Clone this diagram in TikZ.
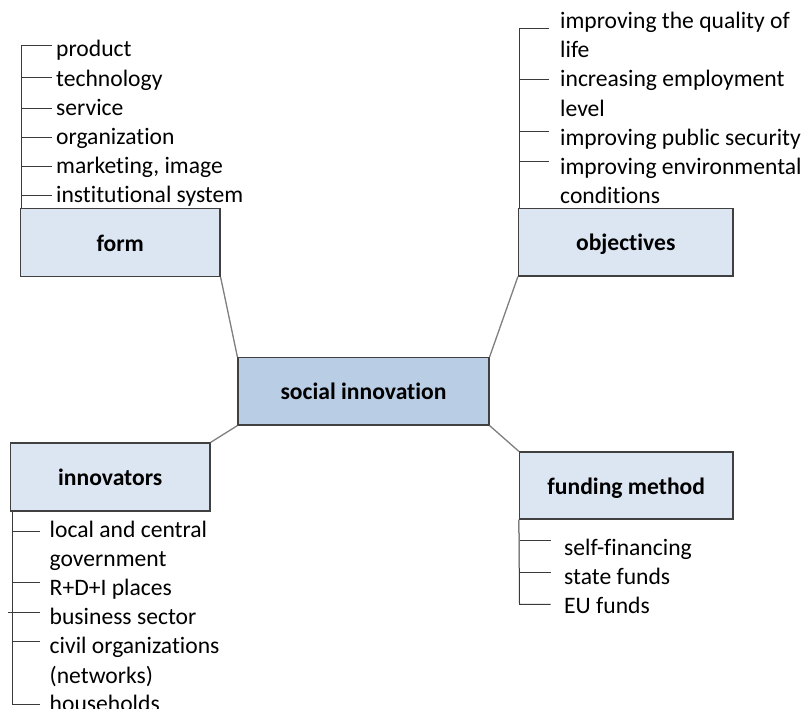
\documentclass[tikz,border=0pt]{standalone}
\usepackage{fontspec}
\setmainfont{Carlito}[Ligatures=NoCommon]
\definecolor{boxfill}{HTML}{DCE6F2}
\definecolor{hubfill}{HTML}{B9CDE5}
\definecolor{boxborder}{HTML}{404040}
\definecolor{conngray}{HTML}{7F7F7F}
\definecolor{tickgray}{HTML}{3A3A3A}
\newcommand\itemfont{\fontsize{23.6}{29}\selectfont}
\tikzset{
  catbox/.style={draw=boxborder, line width=1.2pt, fill=boxfill, inner sep=0pt,
    font=\itemfont\bfseries, text height=19pt, text depth=2pt},
  hubbox/.style={catbox, fill=hubfill},
  listitem/.style={anchor=base west, inner sep=0pt, font=\itemfont},
  conn/.style={draw=conngray, line width=1.3pt},
  tickline/.style={draw=tickgray, line width=1pt}
}
\begin{document}
\begin{tikzpicture}[x=1pt,y=-1pt]
\path[use as bounding box, fill=white] (0,0) rectangle (806,709);

% boxes
\node[hubbox, minimum width=251pt, minimum height=67.5pt] (hub) at (363.5,391.25) {social innovation};
\node[catbox, minimum width=199.5pt, minimum height=68pt] (form) at (120.25,242.5) {form};
\node[catbox, minimum width=214.5pt, minimum height=67.5pt] (obj) at (625.75,242.25) {objectives};
\node[catbox, minimum width=199.5pt, minimum height=68pt] (inn) at (110.25,477) {innovators};
\node[catbox, minimum width=213.5pt, minimum height=67pt] (fund) at (626.25,485.5) {funding method};

% connectors
\draw[conn] (form.south east) -- (hub.north west);
\draw[conn] (obj.south west) -- (hub.north east);
\draw[conn] (hub.south west) -- (inn.north east);
\draw[conn] (hub.south east) -- (fund.north west);

% form list
\foreach \t [count=\i from 0] in {product,technology,service,organization,{marketing, image},institutional system}
  \node[listitem] (f\i) at (56,57+29*\i) {\t};
\coordinate (ftop) at (21,46);
\draw[tickline] (ftop) -- (form.north west -| ftop);
\foreach \y in {46,78,108,137,166,195}
  \draw[tickline] (21,\y) -- (52,\y);

% objectives list
\node[listitem] (o1) at (560,29) {improving the quality of};
\node[listitem] (o2) at (560,58) {life};
\node[listitem] (o3) at (560,87) {increasing employment};
\node[listitem] (o4) at (560,116) {level};
\node[listitem] (o5) at (560,145) {improving public security};
\node[listitem] (o6) at (560,174) {improving environmental};
\node[listitem] (o7) at (560,203) {conditions};
\coordinate (otop) at (519,29);
\draw[tickline] (otop) -- (obj.north west -| otop);
\foreach \y in {29,79.5,131.5,161}
  \draw[tickline] (519,\y) -- (548.5,\y);

% innovators list
\node[listitem] (i1) at (49.5,537) {local and central};
\node[listitem] (i2) at (49.5,566.2) {government};
\node[listitem] (i3) at (49.5,595.4) {R+D+I places};
\node[listitem] (i4) at (49.5,624.6) {business sector};
\node[listitem] (i5) at (49.5,653.8) {civil organizations};
\node[listitem] (i6) at (49.5,683) {(networks)};
\node[listitem] (i7) at (49.5,711.5) {households};
\coordinate (ibot) at (12.3,704.3);
\draw[tickline] (inn.south west -| ibot) -- (ibot) -- (39.5,704.3);
\foreach \y in {531,582.3,641.7}
  \draw[tickline] (12.3,\y) -- (39.5,\y);
\draw[tickline] (8,612.3) -- (39.5,612.3);

% funding list
\node[listitem] (s1) at (564,555.5) {self-financing};
\node[listitem] (s2) at (564,584.3) {state funds};
\node[listitem] (s3) at (564,613.3) {EU funds};
\coordinate (sbot) at (519.5,604.3);
\draw[tickline] (fund.south west) -- (sbot) -- (550.7,604.3);
\foreach \y in {540,572.3}
  \draw[tickline] (519.5,\y) -- (550.7,\y);
\end{tikzpicture}
\end{document}
